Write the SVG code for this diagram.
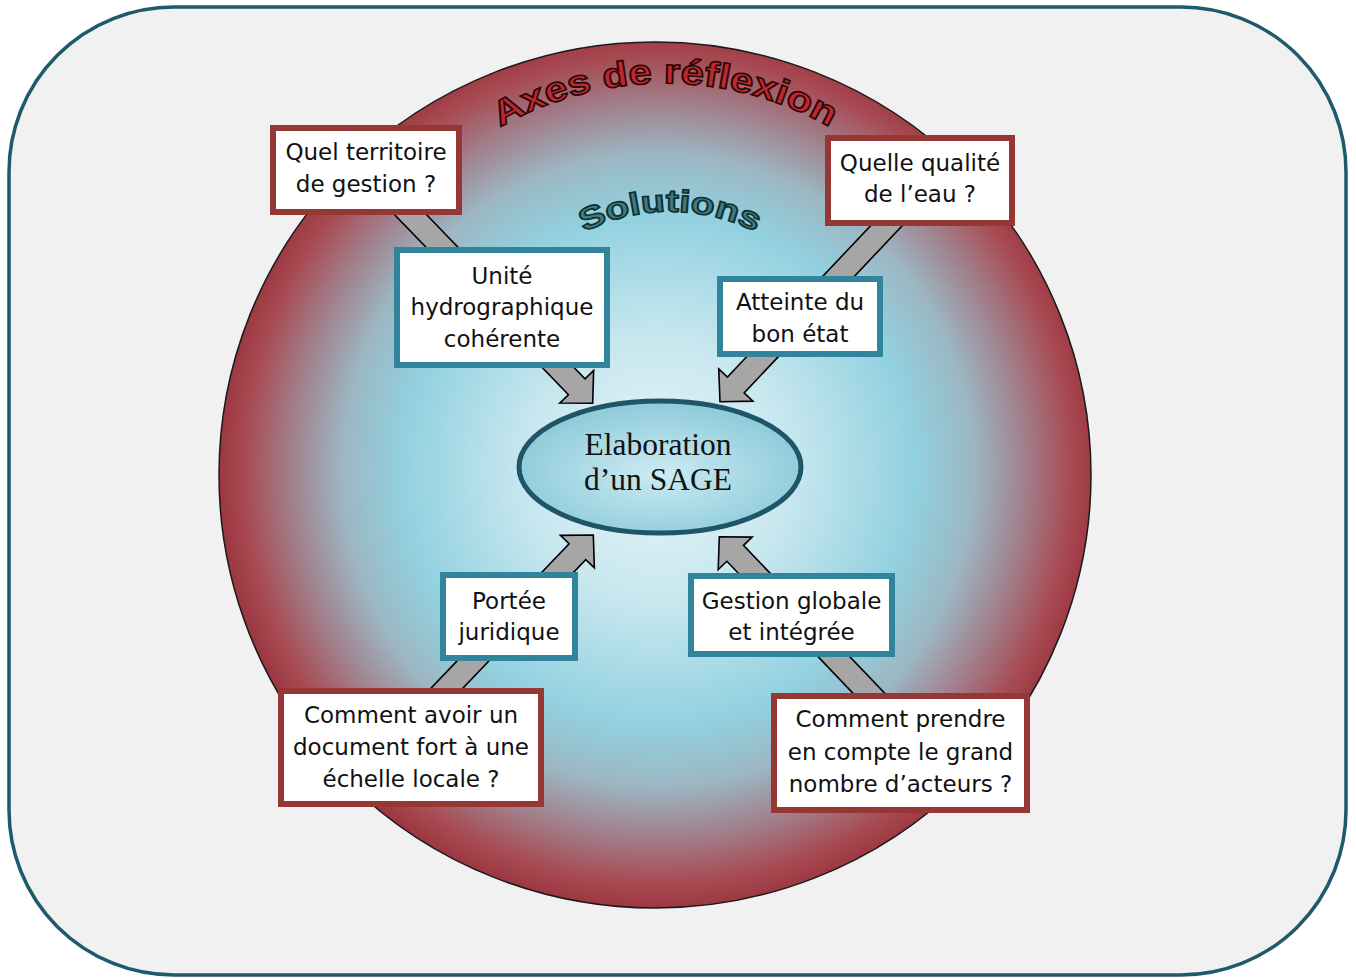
<svg xmlns="http://www.w3.org/2000/svg" width="1356" height="978" viewBox="0 0 1356 978">
<defs>
<radialGradient id="bigGrad" gradientUnits="userSpaceOnUse" cx="658" cy="470" r="440">
<stop offset="0" stop-color="#e6f4f8"/>
<stop offset="0.3" stop-color="#c8e7ef"/>
<stop offset="0.58" stop-color="#92d1e0"/>
<stop offset="0.72" stop-color="#9cb6c2"/>
<stop offset="0.84" stop-color="#a17d89"/>
<stop offset="0.94" stop-color="#a84a52"/>
<stop offset="1" stop-color="#9c3640"/>
</radialGradient>
<radialGradient id="ellGrad" cx="0.5" cy="0.55" r="0.6">
<stop offset="0" stop-color="#cdebf2"/>
<stop offset="1" stop-color="#86c7d8"/>
</radialGradient>
<path id="arcAxes" d="M 480,140 A 330,330 0 0 1 850,140"/>
<path id="arcSol" d="M 570,240 A 190,190 0 0 1 770,240"/>
<polygon id="arrowShape" points="0,0 -23,-23.5 -23,-11.5 -300,-11.5 -300,11.5 -23,11.5 -23,23.5"/>
</defs>
<style>
.bg{fill:#f1f1f1;stroke:#1f5a6b;stroke-width:3.5}
.big{fill:url(#bigGrad);stroke:#1a1a1a;stroke-width:1.5}
.arrow{fill:#a6a6a6;stroke:#000;stroke-width:1.6;stroke-linejoin:miter}
.red rect{fill:#fff;stroke:#953735;stroke-width:6}
.blue rect{fill:#fff;stroke:#31849b;stroke-width:6}
.lbl{font-family:"DejaVu Sans",Verdana,sans-serif;font-size:23px;fill:#111;text-anchor:middle}
.center text{font-family:"Liberation Serif","Times New Roman",serif;font-size:31.5px;fill:#111;text-anchor:middle}
.axes{font-family:"Liberation Sans",Arial,sans-serif;font-weight:bold;font-size:35px;fill:#c1272d;stroke:#2a0808;stroke-width:1.6}
.sol{font-family:"Liberation Sans",Arial,sans-serif;font-weight:bold;font-size:31px;fill:#3c7c82;stroke:#12302f;stroke-width:1.6}
</style>
<rect class="bg" x="9" y="7" width="1337" height="968" rx="165" ry="165"/>
<ellipse class="big" cx="655" cy="475" rx="436" ry="433"/>
<text class="axes"><textPath href="#arcAxes" startOffset="50%" text-anchor="middle" textLength="345" lengthAdjust="spacingAndGlyphs">Axes de réflexion</textPath></text>
<text class="sol"><textPath href="#arcSol" startOffset="50%" text-anchor="middle" textLength="178" lengthAdjust="spacingAndGlyphs">Solutions</textPath></text>
<g id="connectors">
<g transform="translate(592.7,403.3) rotate(46)"><use href="#arrowShape" class="arrow"/></g>
<g transform="translate(720,401.7) rotate(133.4)"><use href="#arrowShape" class="arrow"/></g>
<g transform="translate(593.3,535) rotate(-46.3)"><use href="#arrowShape" class="arrow"/></g>
<g transform="translate(719.3,536.7) rotate(-133.7)"><use href="#arrowShape" class="arrow"/></g>
</g>
<g id="sage" class="center">
<ellipse cx="660" cy="467" rx="141" ry="66" fill="url(#ellGrad)" stroke="#1f5566" stroke-width="5"/>
<text x="658" y="455">Elaboration</text>
<text x="658" y="490">d’un SAGE</text>
</g>
<g id="q-territoire" class="red">
<rect x="273" y="128" width="186" height="84"/>
<text class="lbl" x="366" y="159.5">Quel territoire</text>
<text class="lbl" x="366" y="192">de gestion ?</text>
</g>
<g id="q-qualite" class="red">
<rect x="828" y="138" width="184" height="85"/>
<text class="lbl" x="920" y="171">Quelle qualité</text>
<text class="lbl" x="920" y="202">de l’eau ?</text>
</g>
<g id="q-document" class="red">
<rect x="281" y="691" width="260" height="113"/>
<text class="lbl" x="411" y="723">Comment avoir un</text>
<text class="lbl" x="411" y="755">document fort à une</text>
<text class="lbl" x="411" y="787">échelle locale ?</text>
</g>
<g id="q-acteurs" class="red">
<rect x="774" y="696" width="253" height="114"/>
<text class="lbl" x="900.5" y="727">Comment prendre</text>
<text class="lbl" x="900.5" y="759.5">en compte le grand</text>
<text class="lbl" x="900.5" y="791.5">nombre d’acteurs ?</text>
</g>
<g id="s-unite" class="blue">
<rect x="397" y="250" width="210" height="115"/>
<text class="lbl" x="502" y="283.5">Unité</text>
<text class="lbl" x="502" y="315">hydrographique</text>
<text class="lbl" x="502" y="347">cohérente</text>
</g>
<g id="s-etat" class="blue">
<rect x="720" y="279" width="160" height="75"/>
<text class="lbl" x="800" y="310">Atteinte du</text>
<text class="lbl" x="800" y="342">bon état</text>
</g>
<g id="s-portee" class="blue">
<rect x="443" y="575" width="132" height="83"/>
<text class="lbl" x="509" y="608.5">Portée</text>
<text class="lbl" x="509" y="640">juridique</text>
</g>
<g id="s-gestion" class="blue">
<rect x="691" y="576" width="201" height="78"/>
<text class="lbl" x="791.5" y="608.5">Gestion globale</text>
<text class="lbl" x="791.5" y="640">et intégrée</text>
</g>
</svg>
